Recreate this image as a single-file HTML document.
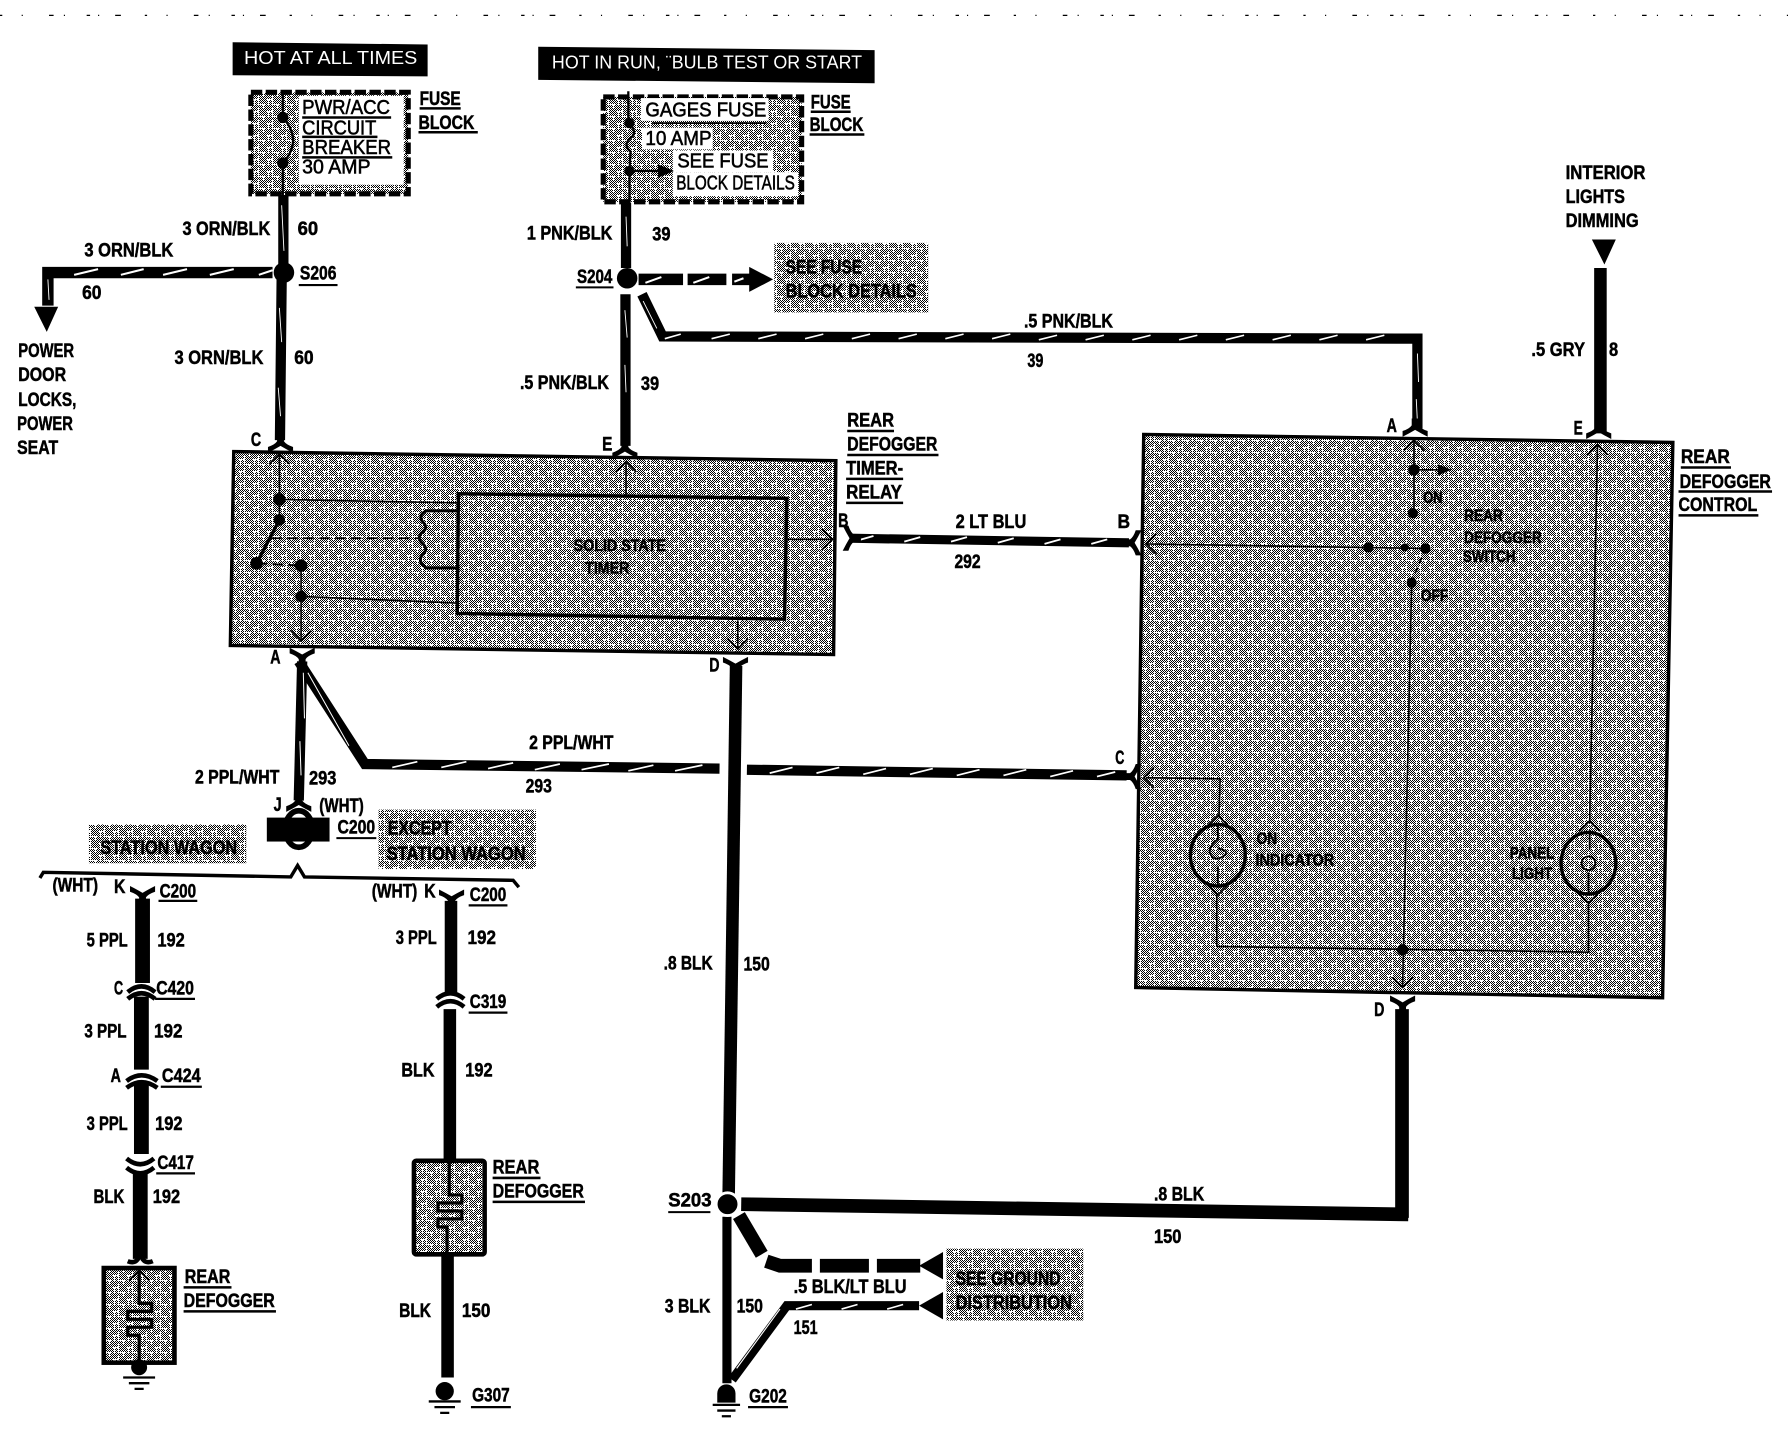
<!DOCTYPE html>
<html><head><meta charset="utf-8"><title>Rear Defogger Wiring Diagram</title>
<style>
html,body{margin:0;padding:0;background:#fff}
svg{display:block}
text{font-family:"Liberation Sans",sans-serif;font-weight:bold;font-size:17px;fill:#000;stroke:#000;stroke-width:.45px}
.s{font-size:14.5px}
.w{fill:#fff;stroke:none;font-weight:normal;font-size:16px}
.b{font-size:17.5px;font-weight:normal;stroke-width:.5px}
.l{stroke:#000;fill:none}
</style></head><body>
<svg xmlns="http://www.w3.org/2000/svg" width="1788" height="1440">
<defs>
<pattern id="ck" patternUnits="userSpaceOnUse" width="2" height="2"><rect width="2" height="2" fill="#fff"/><rect width="1" height="1"/><rect x="1" y="1" width="1" height="1"/></pattern>
<pattern id="ht" patternUnits="userSpaceOnUse" width="14" height="12" patternTransform="scale(.87695)">
<rect width="14" height="12" fill="url(#ck)"/>
<path d="M0 3.500H6M6.500 0V8M6 8.500H14M11.500 8V12M2.500 3V9" stroke="#fff" stroke-width="1"/>
</pattern>
<g id="fork"><path d="M-3 -7H3V-1Q5 2 11 4V9Q5 6 0 3Q-5 6 -11 9V4Q-5 2 -3 -1Z"/></g>
<g id="chev"><path d="M-9 9L0 0L9 9M0 0" fill="none" stroke="#000" stroke-width="1.6"/></g>
</defs>
<g transform="scale(1.14031)">
<!-- top scan noise -->
<path d="M0 13.500H1568" stroke="#000" stroke-width="1.1" stroke-dasharray="2 17 1 23 4 9 1 19 3 7 1 14 5 21" fill="none"/>

<!-- header boxes -->
<path d="M204 37L375 39V67L204 66Z"/>
<text class="w" x="214" y="56" textLength="152" lengthAdjust="spacingAndGlyphs">HOT AT ALL TIMES</text>
<path d="M472 41L767 44V73L472 70Z"/>
<text class="w" x="484" y="60" textLength="272" lengthAdjust="spacingAndGlyphs">HOT IN RUN, ¨BULB TEST OR START</text>

<!-- fuse block 1 -->
<rect x="220" y="81" width="138" height="89" fill="url(#ht)" stroke="#000" stroke-width="4.5" stroke-dasharray="10 3"/>
<rect x="262" y="84" width="92" height="78" fill="#fff"/>
<text class="b" x="265" y="100" textLength="77" lengthAdjust="spacingAndGlyphs">PWR/ACC</text>
<text class="b" x="265" y="118" textLength="65" lengthAdjust="spacingAndGlyphs">CIRCUIT</text>
<text class="b" x="265" y="135" textLength="78" lengthAdjust="spacingAndGlyphs">BREAKER</text>
<text class="b" x="265" y="152" textLength="60" lengthAdjust="spacingAndGlyphs">30 AMP</text>
<path d="M265 103H343M265 120H331M265 138H344" class="l" stroke-width="2.2"/>
<path d="M248 80V103Q266 123 248 143V172" class="l" stroke-width="2"/>
<circle cx="248" cy="103" r="5"/><circle cx="248" cy="143" r="5"/>
<text x="368" y="92" textLength="36" lengthAdjust="spacingAndGlyphs">FUSE</text>
<text x="367" y="113" textLength="49" lengthAdjust="spacingAndGlyphs">BLOCK</text>
<path d="M368 95H404M367 116H419" class="l" stroke-width="2.2"/>

<!-- fuse block 2 -->
<rect x="529" y="85" width="174" height="92" fill="url(#ht)" stroke="#000" stroke-width="4.5" stroke-dasharray="10 3"/>
<rect x="562" y="86" width="112" height="20" fill="#fff"/>
<rect x="563" y="112" width="62" height="19" fill="#fff"/>
<rect x="590" y="132" width="88" height="19" fill="#fff"/>
<rect x="590" y="151" width="110" height="21" fill="#fff"/>
<text class="b" x="566" y="102" textLength="106" lengthAdjust="spacingAndGlyphs">GAGES FUSE</text>
<text class="b" x="566" y="127" textLength="58" lengthAdjust="spacingAndGlyphs">10 AMP</text>
<text class="b" x="594" y="147" textLength="80" lengthAdjust="spacingAndGlyphs">SEE FUSE</text>
<text class="b" x="593" y="166" textLength="104" lengthAdjust="spacingAndGlyphs">BLOCK DETAILS</text>
<path d="M551 80V108Q560 116 553 121Q546 127 553 133L552 150V180" class="l" stroke-width="2"/>
<path d="M552 150H578" class="l" stroke-width="2"/><path d="M577 144L591 150L577 156Z"/>
<path d="M572 108H672" class="l" stroke-width="1.5"/>
<circle cx="552" cy="108" r="4.5"/><circle cx="552" cy="150" r="4.5"/>
<text x="711" y="95" textLength="35" lengthAdjust="spacingAndGlyphs">FUSE</text>
<text x="710" y="115" textLength="47" lengthAdjust="spacingAndGlyphs">BLOCK</text>
<path d="M711 98H746M710 118H758" class="l" stroke-width="2.2"/>

<!-- wires left top -->
<path d="M248.500 171V232M247 245L245.500 386" class="l" stroke-width="9"/>
<path d="M239 239H42V268" class="l" stroke-width="10"/>
<path d="M30 269H51L41 291Z"/>
<circle cx="249" cy="239" r="9"/>
<path d="M65 241l21 -5M106 241l20 -5M143 241l21 -5M184 241l21 -5M227 241l12 -4" style="stroke:#fff" fill="none" stroke-width="1.8"/>
<path d="M247 180l2 40M245 270l2 30M244 340l2 25M42 245l1 18" style="stroke:#fff" fill="none" stroke-width=".8"/>
<use href="#fork" x="246" y="388"/>
<text x="160" y="206" textLength="77" lengthAdjust="spacingAndGlyphs">3 ORN/BLK</text>
<text x="261" y="206" textLength="18" lengthAdjust="spacingAndGlyphs">60</text>
<text x="74" y="225" textLength="78" lengthAdjust="spacingAndGlyphs">3 ORN/BLK</text>
<text x="72" y="262" textLength="17" lengthAdjust="spacingAndGlyphs">60</text>
<text x="263" y="245" textLength="32" lengthAdjust="spacingAndGlyphs">S206</text>
<path d="M262 250H296" class="l" stroke-width="1.8"/>
<text x="16" y="313" textLength="49" lengthAdjust="spacingAndGlyphs">POWER</text>
<text x="16" y="334" textLength="42" lengthAdjust="spacingAndGlyphs">DOOR</text>
<text x="16" y="356" textLength="51" lengthAdjust="spacingAndGlyphs">LOCKS,</text>
<text x="15" y="377" textLength="49" lengthAdjust="spacingAndGlyphs">POWER</text>
<text x="15" y="398" textLength="36" lengthAdjust="spacingAndGlyphs">SEAT</text>
<text x="153" y="319" textLength="78" lengthAdjust="spacingAndGlyphs">3 ORN/BLK</text>
<text x="258" y="319" textLength="17" lengthAdjust="spacingAndGlyphs">60</text>
<text x="220" y="391" textLength="9" lengthAdjust="spacingAndGlyphs">C</text>

<!-- wires S204 -->
<path d="M549 178V235M548.500 258V391" class="l" stroke-width="9"/>
<circle cx="550" cy="244" r="9"/>
<path d="M560 245H599M603 245H637M642 245H658" class="l" stroke-width="10"/>
<path d="M657 234L678 245L657 256Z"/>
<path d="M566 248l14 -5M608 248l14 -5M644 247l8 -3" style="stroke:#fff" fill="none" stroke-width="1.8"/>
<path d="M563 258L581 295L1243 297V376" class="l" stroke-width="9"/>
<path d="M583 297l14 -4M624 297l16 -4M665 297l16 -4M706 297l16 -4M747 297l16 -4M788 297l16 -4M829 297l16 -4M870 297l16 -4M911 298l16 -4M952 298l16 -4M993 298l16 -4M1034 298l16 -4M1075 298l16 -4M1116 298l16 -4M1157 298l16 -4M1198 298l16 -4" style="stroke:#fff" fill="none" stroke-width="1.4"/>
<path d="M564 264l12 24M1243 310l1 25M1242 350l1 20M548 272l2 24M548 320l1 24M549 190l1 26" style="stroke:#fff" fill="none" stroke-width=".8"/>
<use href="#fork" x="548" y="393"/>
<use href="#fork" x="1241" y="374"/>
<rect x="679" y="213" width="135" height="61" fill="url(#ht)"/>
<text x="689" y="240" textLength="67" lengthAdjust="spacingAndGlyphs">SEE FUSE</text>
<text x="689" y="261" textLength="115" lengthAdjust="spacingAndGlyphs">BLOCK DETAILS</text>
<text x="462" y="210" textLength="75" lengthAdjust="spacingAndGlyphs">1 PNK/BLK</text>
<text x="572" y="211" textLength="16" lengthAdjust="spacingAndGlyphs">39</text>
<text x="506" y="248" textLength="31" lengthAdjust="spacingAndGlyphs">S204</text>
<path d="M505 252H538" class="l" stroke-width="1.8"/>
<text x="456" y="341" textLength="78" lengthAdjust="spacingAndGlyphs">.5 PNK/BLK</text>
<text x="562" y="342" textLength="16" lengthAdjust="spacingAndGlyphs">39</text>
<text x="528" y="395" textLength="9" lengthAdjust="spacingAndGlyphs">E</text>
<text x="898" y="287" textLength="78" lengthAdjust="spacingAndGlyphs">.5 PNK/BLK</text>
<text x="901" y="322" textLength="14" lengthAdjust="spacingAndGlyphs">39</text>

<!-- timer relay -->
<path d="M205 396L733 404L731 574L202 566Z" fill="url(#ht)" stroke="#000" stroke-width="3"/>
<path d="M402 433L690 437L688 543L401 538Z" fill="url(#ht)" stroke="#000" stroke-width="3"/>
<path d="M245 397V456M245 438L402 441M264 496V563M264 523L402 529M690 473H731M647 544V570M549 405V436" class="l" stroke-width="1.4"/>
<path d="M245 456L225 494" class="l" stroke-width="3"/>
<path d="M225 494L264 496M238 472H367" class="l" stroke-width="1.6" stroke-dasharray="9 5"/>
<path d="M402 448H374Q366 452 371 458Q376 463 370 467Q365 472 371 477Q376 482 370 487Q366 493 374 498H402" class="l" stroke-width="2.6"/>
<circle cx="245" cy="438" r="5.500"/><circle cx="245" cy="456" r="5"/><circle cx="225" cy="494" r="5.500"/><circle cx="264" cy="496" r="5.500"/><circle cx="264" cy="523" r="5"/>
<use href="#chev" x="245" y="398"/><use href="#chev" x="549" y="405"/>
<use href="#chev" transform="translate(264,562) rotate(180)"/><use href="#chev" transform="translate(647,569) rotate(180)"/><use href="#chev" transform="translate(730,473) rotate(90)"/>
<text class="s" x="503" y="483" textLength="81" lengthAdjust="spacingAndGlyphs">SOLID STATE</text>
<text class="s" x="513" y="503" textLength="39" lengthAdjust="spacingAndGlyphs">TIMER</text>
<text x="743" y="374" textLength="41" lengthAdjust="spacingAndGlyphs">REAR</text>
<text x="743" y="395" textLength="79" lengthAdjust="spacingAndGlyphs">DEFOGGER</text>
<text x="742" y="416" textLength="50" lengthAdjust="spacingAndGlyphs">TIMER-</text>
<text x="742" y="437" textLength="49" lengthAdjust="spacingAndGlyphs">RELAY</text>
<path d="M743 378H784M743 399H823M742 420H792M742 441H792" class="l" stroke-width="2.2"/>

<!-- 292 wire -->
<path d="M745 472L990 476" class="l" stroke-width="8"/>
<path d="M752 474l14 -4M793 475l14 -4M834 475l14 -4M875 476l14 -4M916 477l14 -4M957 477l14 -4" style="stroke:#fff" fill="none" stroke-width="1.6"/>
<use href="#fork" transform="translate(748,472) rotate(90)"/>
<use href="#fork" transform="translate(992,476) rotate(-90)"/>
<text x="735" y="462" textLength="9" lengthAdjust="spacingAndGlyphs">B</text>
<text x="838" y="463" textLength="62" lengthAdjust="spacingAndGlyphs">2 LT BLU</text>
<text x="837" y="498" textLength="23" lengthAdjust="spacingAndGlyphs">292</text>
<text x="980" y="463" textLength="11" lengthAdjust="spacingAndGlyphs">B</text>

<!-- control -->
<path d="M1003 381L1467 388L1458 875L996 866Z" fill="url(#ht)" stroke="#000" stroke-width="3"/>
<path d="M1240 385V450M1240 412H1262M1005 477L1250 481M1238 511L1230 865M1067 830L1394 835M1005 682L1070 683L1069 716M1067 785V830M1401 390L1394 722M1393 790V835" class="l" stroke-width="1.4"/>
<path d="M1261 407L1273 412L1261 417Z"/>
<path d="M1250 481L1238 510" class="l" stroke-width="1.6" stroke-dasharray="5 4"/>
<circle cx="1240" cy="412" r="5"/><circle cx="1239" cy="450" r="4.500"/><circle cx="1200" cy="480" r="4.500"/><circle cx="1232" cy="480" r="3.500"/><circle cx="1250" cy="481" r="4.500"/><circle cx="1238" cy="511" r="4.500"/><circle cx="1230" cy="833" r="5"/>
<use href="#chev" x="1240" y="386"/><use href="#chev" x="1401" y="390"/>
<use href="#chev" transform="translate(1005,477) rotate(-90)"/><use href="#chev" transform="translate(1003,682) rotate(-90)"/>
<use href="#chev" transform="translate(1230,866) rotate(180)"/>
<ellipse cx="1068" cy="750" rx="24" ry="27" class="l" stroke-width="3"/>
<ellipse cx="1393" cy="757" rx="24" ry="27" class="l" stroke-width="3"/>
<use href="#chev" x="1068" y="715"/><use href="#chev" transform="translate(1068,785) rotate(180)"/>
<use href="#chev" x="1394" y="720"/><use href="#chev" transform="translate(1393,792) rotate(180)"/>
<path d="M1068 722V736Q1058 744 1062 750Q1066 756 1074 750Q1078 746 1068 744M1068 760V778M1394 728V745M1393 765V783" class="l" stroke-width="1.6"/>
<path d="M1387 757a6 6 0 1 0 12 0a6 6 0 1 0 -12 0" class="l" stroke-width="1.6"/>
<text class="s" x="1248" y="441" textLength="17" lengthAdjust="spacingAndGlyphs">ON</text>
<text class="s" x="1284" y="457" textLength="34" lengthAdjust="spacingAndGlyphs">REAR</text>
<text class="s" x="1284" y="476" textLength="68" lengthAdjust="spacingAndGlyphs">DEFOGGER</text>
<text class="s" x="1283" y="493" textLength="46" lengthAdjust="spacingAndGlyphs">SWITCH</text>
<text class="s" x="1246" y="527" textLength="24" lengthAdjust="spacingAndGlyphs">OFF</text>
<text class="s" x="1102" y="740" textLength="18" lengthAdjust="spacingAndGlyphs">ON</text>
<text class="s" x="1101" y="759" textLength="69" lengthAdjust="spacingAndGlyphs">INDICATOR</text>
<text class="s" x="1324" y="753" textLength="39" lengthAdjust="spacingAndGlyphs">PANEL</text>
<text class="s" x="1326" y="771" textLength="35" lengthAdjust="spacingAndGlyphs">LIGHT</text>
<text x="1474" y="406" textLength="43" lengthAdjust="spacingAndGlyphs">REAR</text>
<text x="1473" y="428" textLength="80" lengthAdjust="spacingAndGlyphs">DEFOGGER</text>
<text x="1472" y="448" textLength="69" lengthAdjust="spacingAndGlyphs">CONTROL</text>
<path d="M1474 410H1518M1472 431H1554M1472 452H1542" class="l" stroke-width="2.2"/>
<text x="1216" y="379" textLength="9" lengthAdjust="spacingAndGlyphs">A</text>
<text x="1380" y="381" textLength="8" lengthAdjust="spacingAndGlyphs">E</text>

<!-- interior lights -->
<path d="M1396 210H1417L1407 232Z"/>
<path d="M1403.500 235V380" class="l" stroke-width="11"/>
<use href="#fork" x="1402" y="376"/>
<text x="1373" y="157" textLength="70" lengthAdjust="spacingAndGlyphs">INTERIOR</text>
<text x="1373" y="178" textLength="52" lengthAdjust="spacingAndGlyphs">LIGHTS</text>
<text x="1373" y="199" textLength="64" lengthAdjust="spacingAndGlyphs">DIMMING</text>
<text x="1343" y="312" textLength="47" lengthAdjust="spacingAndGlyphs">.5 GRY</text>
<text x="1411" y="312" textLength="8" lengthAdjust="spacingAndGlyphs">8</text>

<!-- 293 wires -->
<path d="M265 580L262 702" class="l" stroke-width="9"/>
<path d="M262 580L320 670L631 674M655 675L988 680" class="l" stroke-width="9"/>
<path d="M344 673l22 -5M387 673l22 -5M428 674l22 -5M469 675l22 -5M510 675l24 -5M551 676l22 -5M592 676l24 -5M675 678l20 -5M716 678l20 -5M757 679l20 -5M798 679l20 -5M839 680l20 -5M880 680l20 -5M921 681l20 -5M962 681l16 -4" style="stroke:#fff" fill="none" stroke-width="1.5"/>
<path d="M266 590l1 40M263 650l1 30M270 590l36 64" style="stroke:#fff" fill="none" stroke-width=".9"/>
<use href="#fork" transform="translate(265,577) rotate(180)"/>
<use href="#fork" transform="translate(992,681) rotate(-90)"/>
<use href="#fork" x="262" y="703"/>
<text x="237" y="582" textLength="9" lengthAdjust="spacingAndGlyphs">A</text>
<text x="171" y="687" textLength="74" lengthAdjust="spacingAndGlyphs">2 PPL/WHT</text>
<text x="271" y="688" textLength="24" lengthAdjust="spacingAndGlyphs">293</text>
<text x="464" y="657" textLength="74" lengthAdjust="spacingAndGlyphs">2 PPL/WHT</text>
<text x="461" y="695" textLength="23" lengthAdjust="spacingAndGlyphs">293</text>
<text x="978" y="670" textLength="8" lengthAdjust="spacingAndGlyphs">C</text>

<!-- C200 -->
<rect x="234" y="717" width="55" height="21"/>
<ellipse cx="262" cy="727" rx="12" ry="16" class="l" stroke-width="5"/>
<text x="240" y="711" textLength="7" lengthAdjust="spacingAndGlyphs">J</text>
<text x="280" y="712" textLength="39" lengthAdjust="spacingAndGlyphs">(WHT)</text>
<text x="296" y="731" textLength="33" lengthAdjust="spacingAndGlyphs">C200</text>
<path d="M295 735H330" class="l" stroke-width="1.8"/>
<rect x="332" y="710" width="138" height="52" fill="url(#ht)"/>
<text x="340" y="732" textLength="56" lengthAdjust="spacingAndGlyphs">EXCEPT</text>
<text x="339" y="754" textLength="122" lengthAdjust="spacingAndGlyphs">STATION WAGON</text>
<rect x="78" y="723" width="138" height="34" fill="url(#ht)"/>
<text x="88" y="749" textLength="120" lengthAdjust="spacingAndGlyphs">STATION WAGON</text>
<path d="M35 770L38 765L255 769L261 759L267 769L450 772L455 778" class="l" stroke-width="3"/>

<!-- left branch -->
<path d="M125 788V862M124 874V938M124 950V1012M123 1028V1104" class="l" stroke-width="13"/>
<use href="#fork" transform="translate(125,786) rotate(180)"/>
<path d="M112 870Q124 860 136 870M112 876Q124 866 136 876M111 948Q124 938 138 948M111 954Q124 944 138 954M111 1016Q123 1026 135 1016M111 1024Q123 1034 135 1024M112 1106Q122 1110 123 1096Q124 1110 134 1106" class="l" stroke-width="4"/>
<text x="46" y="782" textLength="40" lengthAdjust="spacingAndGlyphs">(WHT)</text>
<text x="100" y="783" textLength="10" lengthAdjust="spacingAndGlyphs">K</text>
<text x="140" y="787" textLength="32" lengthAdjust="spacingAndGlyphs">C200</text>
<path d="M139 790H173M136 876H171M141 953H177M137 1029H171" class="l" stroke-width="2"/>
<text x="76" y="830" textLength="36" lengthAdjust="spacingAndGlyphs">5 PPL</text>
<text x="138" y="830" textLength="24" lengthAdjust="spacingAndGlyphs">192</text>
<text x="100" y="872" textLength="8" lengthAdjust="spacingAndGlyphs">C</text>
<text x="137" y="872" textLength="33" lengthAdjust="spacingAndGlyphs">C420</text>
<text x="74" y="910" textLength="37" lengthAdjust="spacingAndGlyphs">3 PPL</text>
<text x="135" y="910" textLength="25" lengthAdjust="spacingAndGlyphs">192</text>
<text x="97" y="949" textLength="9" lengthAdjust="spacingAndGlyphs">A</text>
<text x="142" y="949" textLength="34" lengthAdjust="spacingAndGlyphs">C424</text>
<text x="76" y="991" textLength="36" lengthAdjust="spacingAndGlyphs">3 PPL</text>
<text x="136" y="991" textLength="24" lengthAdjust="spacingAndGlyphs">192</text>
<text x="138" y="1025" textLength="32" lengthAdjust="spacingAndGlyphs">C417</text>
<text x="82" y="1055" textLength="27" lengthAdjust="spacingAndGlyphs">BLK</text>
<text x="134" y="1055" textLength="24" lengthAdjust="spacingAndGlyphs">192</text>
<rect x="91" y="1112" width="62" height="83" fill="url(#ht)" stroke="#000" stroke-width="4"/>
<path d="M122 1112V1143H133V1150H112V1157H133V1164H112V1171H122V1198" class="l" stroke-width="2.8"/>
<use href="#chev" x="122" y="1114"/>
<circle cx="122" cy="1199" r="7"/>
<path d="M108 1208H136M113 1213H131M118 1218H126" class="l" stroke-width="2"/>
<text x="162" y="1125" textLength="40" lengthAdjust="spacingAndGlyphs">REAR</text>
<text x="161" y="1146" textLength="80" lengthAdjust="spacingAndGlyphs">DEFOGGER</text>
<path d="M161 1129H203M161 1150H242" class="l" stroke-width="2.2"/>

<!-- right branch -->
<path d="M395.500 790V872M394.500 885V1018M392.500 1100V1208" class="l" stroke-width="11"/>
<use href="#fork" transform="translate(396,789) rotate(180)"/>
<path d="M383 876Q395 866 407 876M383 883Q395 873 407 883" class="l" stroke-width="4"/>
<text x="326" y="787" textLength="40" lengthAdjust="spacingAndGlyphs">(WHT)</text>
<text x="372" y="787" textLength="10" lengthAdjust="spacingAndGlyphs">K</text>
<text x="412" y="790" textLength="32" lengthAdjust="spacingAndGlyphs">C200</text>
<path d="M411 794H445M411 888H445" class="l" stroke-width="2"/>
<text x="347" y="828" textLength="36" lengthAdjust="spacingAndGlyphs">3 PPL</text>
<text x="410" y="828" textLength="25" lengthAdjust="spacingAndGlyphs">192</text>
<text x="412" y="884" textLength="32" lengthAdjust="spacingAndGlyphs">C319</text>
<text x="352" y="944" textLength="29" lengthAdjust="spacingAndGlyphs">BLK</text>
<text x="408" y="944" textLength="24" lengthAdjust="spacingAndGlyphs">192</text>
<rect x="363" y="1018" width="62" height="82" rx="2" fill="url(#ht)" stroke="#000" stroke-width="4"/>
<path d="M394 1018V1048H405V1055H384V1062H405V1069H384V1076H392V1100" class="l" stroke-width="2.8"/>
<text x="432" y="1029" textLength="41" lengthAdjust="spacingAndGlyphs">REAR</text>
<text x="432" y="1050" textLength="80" lengthAdjust="spacingAndGlyphs">DEFOGGER</text>
<path d="M432 1033H474M432 1054H513" class="l" stroke-width="2.2"/>
<text x="350" y="1155" textLength="28" lengthAdjust="spacingAndGlyphs">BLK</text>
<text x="405" y="1155" textLength="25" lengthAdjust="spacingAndGlyphs">150</text>
<circle cx="390" cy="1220" r="8"/>
<path d="M376 1229H404M381 1234H399M386 1239H394" class="l" stroke-width="2"/>
<text x="414" y="1229" textLength="33" lengthAdjust="spacingAndGlyphs">G307</text>
<path d="M413 1234H448" class="l" stroke-width="2"/>

<!-- centre ground wire -->
<path d="M645.500 584L639 1048" class="l" stroke-width="11"/>
<use href="#fork" transform="translate(645,585) rotate(180)"/>
<text x="622" y="589" textLength="9" lengthAdjust="spacingAndGlyphs">D</text>
<text x="582" y="850" textLength="43" lengthAdjust="spacingAndGlyphs">.8 BLK</text>
<text x="652" y="851" textLength="23" lengthAdjust="spacingAndGlyphs">150</text>
<path d="M1229.500 885V1068" class="l" stroke-width="12"/>
<use href="#fork" transform="translate(1230,882) rotate(180)"/>
<text x="1205" y="891" textLength="9" lengthAdjust="spacingAndGlyphs">D</text>
<path d="M650 1056L1235 1065" class="l" stroke-width="12"/>
<path d="M637.500 1067V1213" class="l" stroke-width="8"/>
<path d="M648 1066L668 1100" class="l" stroke-width="12"/>
<circle cx="638" cy="1056" r="10" stroke="#fff" stroke-width="2.5"/>
<text x="586" y="1058" textLength="38" lengthAdjust="spacingAndGlyphs">S203</text>
<path d="M586 1063H623" class="l" stroke-width="1.8"/>
<text x="1012" y="1053" textLength="44" lengthAdjust="spacingAndGlyphs">.8 BLK</text>
<text x="1012" y="1090" textLength="24" lengthAdjust="spacingAndGlyphs">150</text>
<path d="M672 1106L684 1110H712M719 1110H762M769 1110H807" class="l" stroke-width="12"/>
<path d="M806 1110L827 1098V1122Z"/>
<path d="M642 1210L690 1145H806" class="l" stroke-width="8"/>
<path d="M806 1145L827 1133V1157Z"/>
<path d="M646 1200l38 -52" style="stroke:#fff" fill="none" stroke-width="1"/>
<path d="M698 1148l14 -4M738 1148l14 -4M778 1148l14 -4" style="stroke:#fff" fill="none" stroke-width="1.4"/>
<rect x="830" y="1095" width="120" height="63" fill="url(#ht)"/>
<text x="838" y="1127" textLength="92" lengthAdjust="spacingAndGlyphs">SEE GROUND</text>
<text x="838" y="1148" textLength="102" lengthAdjust="spacingAndGlyphs">DISTRIBUTION</text>
<text x="696" y="1134" textLength="99" lengthAdjust="spacingAndGlyphs">.5 BLK/LT BLU</text>
<text x="696" y="1170" textLength="21" lengthAdjust="spacingAndGlyphs">151</text>
<text x="583" y="1151" textLength="40" lengthAdjust="spacingAndGlyphs">3 BLK</text>
<text x="646" y="1151" textLength="23" lengthAdjust="spacingAndGlyphs">150</text>
<path d="M629 1230V1222a8 8 0 0 1 16 0V1230Z"/>
<path d="M625 1232H649M629 1237H645M633 1242H641" class="l" stroke-width="2"/>
<text x="657" y="1230" textLength="33" lengthAdjust="spacingAndGlyphs">G202</text>
<path d="M656 1234H691" class="l" stroke-width="2"/>
</g>
</svg>
</body></html>
